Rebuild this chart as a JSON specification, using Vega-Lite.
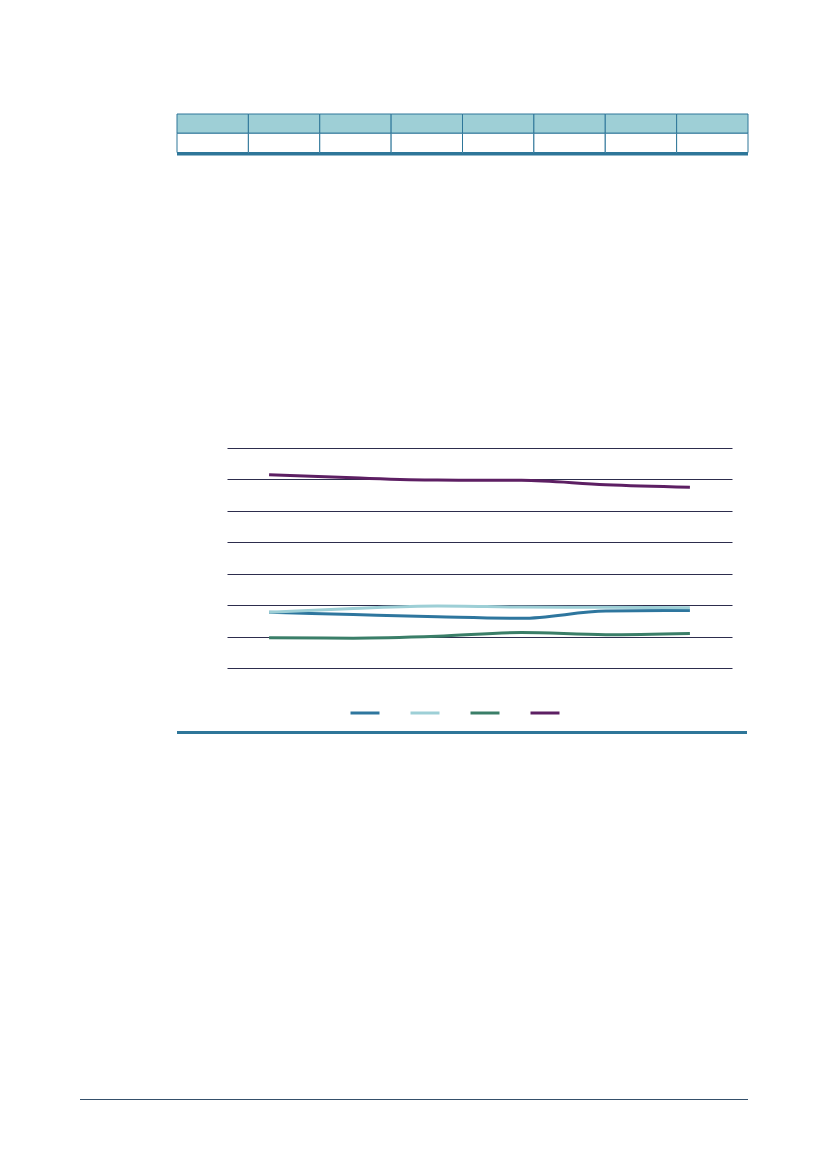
{
  "$schema": "https://vega.github.io/schema/vega-lite/v6.json",
  "padding": {"left": 80, "top": 113, "right": 0, "bottom": 0},
  "background": "white",
  "spacing": 0,
  "config": {"view": {"stroke": null}, "concat": {"spacing": 0}},
  "datasets": {
    "table": [
      {"col": 1, "row": "header"}, {"col": 2, "row": "header"}, {"col": 3, "row": "header"}, {"col": 4, "row": "header"},
      {"col": 5, "row": "header"}, {"col": 6, "row": "header"}, {"col": 7, "row": "header"}, {"col": 8, "row": "header"},
      {"col": 1, "row": "body"}, {"col": 2, "row": "body"}, {"col": 3, "row": "body"}, {"col": 4, "row": "body"},
      {"col": 5, "row": "body"}, {"col": 6, "row": "body"}, {"col": 7, "row": "body"}, {"col": 8, "row": "body"}
    ],
    "series": [
      {"period": "1", "series": "Series 1", "value": 17.7},
      {"period": "2", "series": "Series 1", "value": 17.0},
      {"period": "3", "series": "Series 1", "value": 16.3},
      {"period": "4", "series": "Series 1", "value": 15.8},
      {"period": "5", "series": "Series 1", "value": 18.1},
      {"period": "6", "series": "Series 1", "value": 18.3},
      {"period": "1", "series": "Series 2", "value": 17.7},
      {"period": "2", "series": "Series 2", "value": 18.9},
      {"period": "3", "series": "Series 2", "value": 19.7},
      {"period": "4", "series": "Series 2", "value": 19.4},
      {"period": "5", "series": "Series 2", "value": 19.3},
      {"period": "6", "series": "Series 2", "value": 19.2},
      {"period": "1", "series": "Series 3", "value": 9.6},
      {"period": "2", "series": "Series 3", "value": 9.5},
      {"period": "3", "series": "Series 3", "value": 10.1},
      {"period": "4", "series": "Series 3", "value": 11.3},
      {"period": "5", "series": "Series 3", "value": 10.6},
      {"period": "6", "series": "Series 3", "value": 11.0},
      {"period": "1", "series": "Series 4", "value": 61.5},
      {"period": "2", "series": "Series 4", "value": 60.5},
      {"period": "3", "series": "Series 4", "value": 59.8},
      {"period": "4", "series": "Series 4", "value": 59.7},
      {"period": "5", "series": "Series 4", "value": 58.3},
      {"period": "6", "series": "Series 4", "value": 57.5}
    ]
  },
  "vconcat": [
    {
      "bounds": "flush",
      "spacing": 0,
      "hconcat": [
        {"width": 97, "height": 38.5, "data": {"values": []}, "mark": "point", "encoding": {}},
        {
          "width": 571,
          "height": 38.5,
          "data": {"name": "table"},
          "mark": {"type": "rect", "stroke": "#2e7699", "strokeWidth": 1},
          "encoding": {
            "x": {"field": "col", "type": "ordinal", "axis": null, "scale": {"paddingInner": 0, "paddingOuter": 0}},
            "y": {"field": "row", "type": "nominal", "axis": null, "sort": ["header", "body"], "scale": {"paddingInner": 0, "paddingOuter": 0}},
            "fill": {"field": "row", "type": "nominal", "legend": null, "scale": {"domain": ["header", "body"], "range": ["#9ecfd6", "#ffffff"]}}
          }
        }
      ]
    },
    {
      "bounds": "flush",
      "spacing": 0,
      "hconcat": [
        {"width": 97, "height": 2.5, "data": {"values": []}, "mark": "point", "encoding": {}},
        {"width": 571, "height": 2.5, "view": {"fill": "#2e7699", "stroke": null}, "data": {"values": []}, "mark": "point", "encoding": {}}
      ]
    },
    {"width": 668, "height": 291.2, "data": {"values": []}, "mark": "point", "encoding": {}},
    {
      "bounds": "flush",
      "spacing": 0,
      "hconcat": [
        {"width": 147, "height": 220, "data": {"values": []}, "mark": "point", "encoding": {}},
        {
          "width": 505,
          "height": 220,
          "data": {"name": "series"},
          "mark": {"type": "line", "strokeWidth": 3, "interpolate": "monotone"},
          "encoding": {
            "x": {"field": "period", "type": "ordinal", "axis": null, "scale": {"type": "point", "padding": 0.5}},
            "y": {
              "field": "value",
              "type": "quantitative",
              "scale": {"domain": [0, 70], "nice": false},
              "axis": {"values": [0, 10, 20, 30, 40, 50, 60, 70], "grid": true, "gridColor": "#2d2d4d", "gridWidth": 1, "gridOpacity": 1, "labels": false, "ticks": false, "domain": false, "title": null}
            },
            "color": {
              "field": "series",
              "type": "nominal",
              "scale": {"domain": ["Series 1", "Series 2", "Series 3", "Series 4"], "range": ["#2e769e", "#9dcfd6", "#3a7e68", "#5d1f63"]},
              "legend": {
                "orient": "none",
                "legendX": 269,
                "legendY": 583,
                "direction": "horizontal",
                "title": null,
                "padding": 0,
                "symbolType": "stroke",
                "symbolSize": 841,
                "symbolStrokeWidth": 3,
                "labelExpr": "''",
                "labelOffset": 0,
                "columnPadding": 18
              }
            }
          }
        }
      ]
    },
    {"width": 668, "height": 62.8, "data": {"values": []}, "mark": "point", "encoding": {}},
    {
      "bounds": "flush",
      "spacing": 0,
      "hconcat": [
        {"width": 97, "height": 3, "data": {"values": []}, "mark": "point", "encoding": {}},
        {"width": 570, "height": 3, "view": {"fill": "#2e7699", "stroke": null}, "data": {"values": []}, "mark": "point", "encoding": {}}
      ]
    },
    {"width": 668, "height": 365, "data": {"values": []}, "mark": "point", "encoding": {}},
    {"width": 668, "height": 1, "view": {"fill": "#35506b", "stroke": null}, "data": {"values": []}, "mark": "point", "encoding": {}}
  ]
}
